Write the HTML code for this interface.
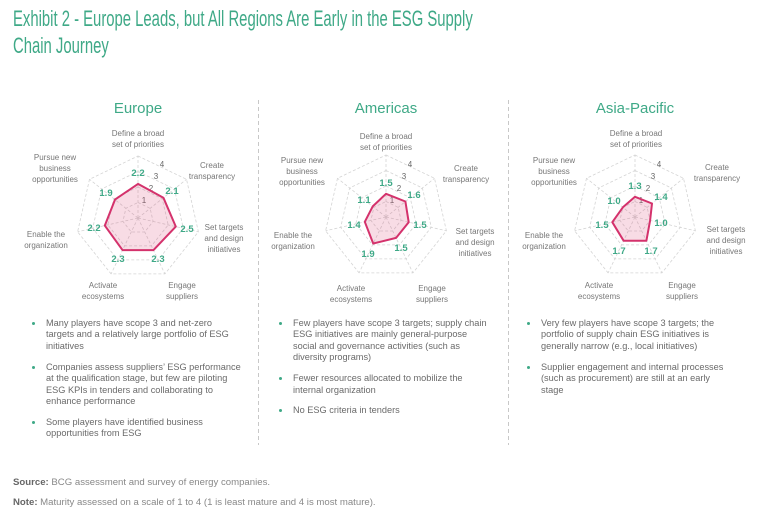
<!DOCTYPE html>
<html><head><meta charset="utf-8"><style>
body{margin:0;width:768px;height:527px;background:#fff;overflow:hidden;position:relative;font-family:"Liberation Sans",sans-serif}
.t{position:absolute;left:13px;top:5px;font-family:"Liberation Sans",sans-serif;font-size:22.5px;line-height:27px;color:#3fa987;transform:scaleX(0.66);transform-origin:0 0;white-space:nowrap}
.b{position:absolute;font-size:9.2px;line-height:11.4px;color:#6a6a6a;width:225px}
.b p{margin:0 0 9.5px 0;position:relative}
.b p:before{content:"";position:absolute;left:-14px;top:4px;width:3px;height:3px;border-radius:50%;background:#3fa987}
.f{position:absolute;left:13px;font-size:9.6px;color:#888}
.f b{color:#666}
</style></head><body>
<div class="t">Exhibit 2 - Europe Leads, but All Regions Are Early in the ESG Supply<br>Chain Journey</div>
<svg id="s" width="768" height="527" style="position:absolute;left:0;top:0" font-family="Liberation Sans, sans-serif">
<g stroke="#bbb" stroke-dasharray="4,3" stroke-width="0.8"><line x1="258.5" y1="100" x2="258.5" y2="445"/><line x1="508.5" y1="100" x2="508.5" y2="445"/></g>
<g id="grid"></g>
<g fill="#3fa987" font-size="15" text-anchor="middle">
<text x="138" y="113">Europe</text><text x="386" y="113">Americas</text><text x="635" y="113">Asia-Pacific</text></g>
<g id="lab" fill="#777" font-size="8" text-anchor="middle">
<text x="138" y="136">Define a broad</text><text x="138" y="147">set of priorities</text>
<text x="212" y="168">Create</text><text x="212" y="179">transparency</text>
<text x="224" y="230">Set targets</text><text x="224" y="241">and design</text><text x="224" y="252">initiatives</text>
<text x="182" y="288">Engage</text><text x="182" y="299">suppliers</text>
<text x="103" y="288">Activate</text><text x="103" y="299">ecosystems</text>
<text x="46" y="237">Enable the</text><text x="46" y="248">organization</text>
<text x="55" y="160">Pursue new</text><text x="55" y="171">business</text><text x="55" y="182">opportunities</text>
<text x="386" y="139">Define a broad</text><text x="386" y="150">set of priorities</text>
<text x="466" y="171">Create</text><text x="466" y="182">transparency</text>
<text x="475" y="234">Set targets</text><text x="475" y="245">and design</text><text x="475" y="256">initiatives</text>
<text x="432" y="291">Engage</text><text x="432" y="302">suppliers</text>
<text x="351" y="291">Activate</text><text x="351" y="302">ecosystems</text>
<text x="293" y="238">Enable the</text><text x="293" y="249">organization</text>
<text x="302" y="163">Pursue new</text><text x="302" y="174">business</text><text x="302" y="185">opportunities</text>
<text x="636" y="136">Define a broad</text><text x="636" y="147">set of priorities</text>
<text x="717" y="170">Create</text><text x="717" y="181">transparency</text>
<text x="726" y="232">Set targets</text><text x="726" y="243">and design</text><text x="726" y="254">initiatives</text>
<text x="682" y="288">Engage</text><text x="682" y="299">suppliers</text>
<text x="599" y="288">Activate</text><text x="599" y="299">ecosystems</text>
<text x="544" y="238">Enable the</text><text x="544" y="249">organization</text>
<text x="554" y="163">Pursue new</text><text x="554" y="174">business</text><text x="554" y="185">opportunities</text>
</g>
<g fill="#666" font-size="8" text-anchor="middle">
<text x="162" y="167">4</text><text x="156" y="179">3</text><text x="151" y="191">2</text><text x="144" y="203">1</text>
<text x="410" y="167">4</text><text x="404" y="179">3</text><text x="399" y="191">2</text><text x="392" y="203">1</text>
<text x="659" y="167">4</text><text x="653" y="179">3</text><text x="648" y="191">2</text><text x="641" y="203">1</text>
</g>
<g id="poly"></g>
<g fill="#3fa987" font-size="9.5" font-weight="bold" text-anchor="middle">
<text x="138" y="176">2.2</text><text x="172" y="194">2.1</text><text x="187" y="232">2.5</text><text x="158" y="262">2.3</text><text x="118" y="262">2.3</text><text x="94" y="231">2.2</text><text x="106" y="196">1.9</text>
<text x="386" y="186">1.5</text><text x="414" y="198">1.6</text><text x="420" y="228">1.5</text><text x="401" y="251">1.5</text><text x="368" y="257">1.9</text><text x="354" y="228">1.4</text><text x="364" y="203">1.1</text>
<text x="635" y="189">1.3</text><text x="661" y="200">1.4</text><text x="661" y="226">1.0</text><text x="651" y="254">1.7</text><text x="619" y="254">1.7</text><text x="602" y="228">1.5</text><text x="614" y="204">1.0</text>
</g>
</svg>
<div class="b" style="left:46px;top:318px;width:212px">
<p>Many players have scope 3 and net-zero<br>targets and a relatively large portfolio of ESG<br>initiatives</p>
<p>Companies assess suppliers’ ESG performance<br>at the qualification stage, but few are piloting<br>ESG KPIs in tenders and collaborating to<br>enhance performance</p>
<p>Some players have identified business<br>opportunities from ESG</p></div>
<div class="b" style="left:293px;top:318px">
<p>Few players have scope 3 targets; supply chain<br>ESG initiatives are mainly general-purpose<br>social and governance activities (such as<br>diversity programs)</p>
<p>Fewer resources allocated to mobilize the<br>internal organization</p>
<p>No ESG criteria in tenders</p></div>
<div class="b" style="left:541px;top:318px">
<p>Very few players have scope 3 targets; the<br>portfolio of supply chain ESG initiatives is<br>generally narrow (e.g., local initiatives)</p>
<p>Supplier engagement and internal processes<br>(such as procurement) are still at an early<br>stage</p></div>
<div class="f" style="top:477px"><b>Source:</b> BCG assessment and survey of energy companies.</div>
<div class="f" style="top:497px"><b>Note:</b> Maturity assessed on a scale of 1 to 4 (1 is least mature and 4 is most mature).</div>
<script>
var ns="http://www.w3.org/2000/svg";
var charts=[[138,218,[2.2,2.1,2.5,2.3,2.3,2.2,1.9]],[386,217,[1.5,1.6,1.5,1.5,1.9,1.4,1.1]],[635,217,[1.3,1.4,1.0,1.7,1.7,1.5,1.0]]];
var g=document.getElementById("grid"),p=document.getElementById("poly"),S=15.5;
function pt(cx,cy,k,r){var a=(-90+360/7*k)*Math.PI/180;return (cx+r*Math.cos(a)).toFixed(1)+","+(cy+r*Math.sin(a)).toFixed(1);}
function el(par,tag,at){var e=document.createElementNS(ns,tag);for(var k in at)e.setAttribute(k,at[k]);par.appendChild(e);}
charts.forEach(function(c){
 for(var l=1;l<=4;l++){var a=[];for(var k=0;k<7;k++)a.push(pt(c[0],c[1],k,l*S));
  el(g,"polygon",{points:a.join(" "),fill:"none",stroke:"#d4d4d4","stroke-dasharray":"3,2","stroke-width":"0.8"});}
 for(var k=0;k<7;k++){var q=pt(c[0],c[1],k,4*S).split(",");el(g,"line",{x1:c[0],y1:c[1],x2:q[0],y2:q[1],stroke:"#d4d4d4","stroke-dasharray":"3,2","stroke-width":"0.8"});}
 var a=[];for(var k=0;k<7;k++)a.push(pt(c[0],c[1],k,c[2][k]*S));
 el(p,"polygon",{points:a.join(" "),fill:"rgba(214,60,110,0.18)",stroke:"#d4326c","stroke-width":"2","stroke-linejoin":"round"});
});
</script>
</body></html>
